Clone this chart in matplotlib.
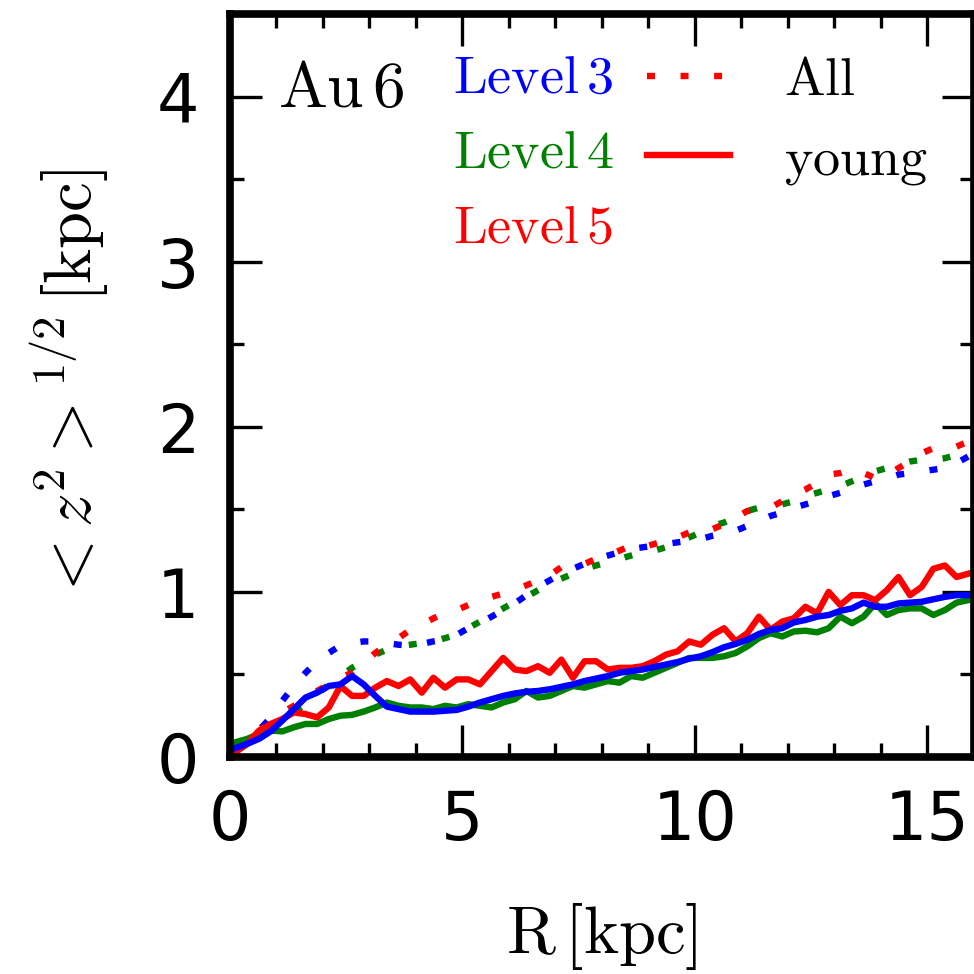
import numpy as np
import matplotlib
matplotlib.use("Agg")
import matplotlib.pyplot as plt
from matplotlib.lines import Line2D

plt.rcParams['mathtext.fontset'] = 'cm'

# =========================
# DATA  (R bins of 0.25 kpc)
# =========================
R = [0.125, 0.375, 0.625, 0.875, 1.125, 1.375, 1.625, 1.875,
     2.125, 2.375, 2.625, 2.875, 3.125, 3.375, 3.625, 3.875,
     4.125, 4.375, 4.625, 4.875, 5.125, 5.375, 5.625, 5.875,
     6.125, 6.375, 6.625, 6.875, 7.125, 7.375, 7.625, 7.875,
     8.125, 8.375, 8.625, 8.875, 9.125, 9.375, 9.625, 9.875,
     10.125, 10.375, 10.625, 10.875, 11.125, 11.375, 11.625, 11.875,
     12.125, 12.375, 12.625, 12.875, 13.125, 13.375, 13.625, 13.875,
     14.125, 14.375, 14.625, 14.875, 15.125, 15.375, 15.625, 15.875]

# all stars
all_l3 = [0.06, 0.10, 0.16, 0.24, 0.34, 0.43, 0.51, 0.58,
          0.63, 0.675, 0.69, 0.70, 0.70, 0.69, 0.68, 0.675,
          0.685, 0.70, 0.71, 0.74, 0.78, 0.81, 0.85, 0.89,
          0.93, 0.98, 1.03, 1.07, 1.11, 1.14, 1.17, 1.20,
          1.22, 1.24, 1.26, 1.27, 1.28, 1.29, 1.30, 1.31,
          1.32, 1.34, 1.355, 1.37, 1.40, 1.43, 1.46, 1.48,
          1.51, 1.53, 1.55, 1.58, 1.60, 1.62, 1.65, 1.67,
          1.69, 1.71, 1.72, 1.73, 1.74, 1.75, 1.78, 1.82]
all_l4 = [0.08, 0.11, 0.15, 0.19, 0.23, 0.27, 0.32, 0.38,
          0.44, 0.49, 0.54, 0.58, 0.62, 0.65, 0.67, 0.68,
          0.69, 0.70, 0.72, 0.74, 0.78, 0.82, 0.86, 0.90,
          0.94, 0.97, 1.01, 1.05, 1.08, 1.11, 1.14, 1.16,
          1.18, 1.20, 1.22, 1.24, 1.25, 1.27, 1.30, 1.33,
          1.36, 1.40, 1.42, 1.45, 1.49, 1.51, 1.52, 1.53,
          1.55, 1.58, 1.60, 1.62, 1.64, 1.67, 1.70, 1.73,
          1.75, 1.77, 1.79, 1.80, 1.80, 1.81, 1.83, 1.85]
all_l5 = [0.04, 0.10, 0.17, 0.22, 0.27, 0.31, 0.35, 0.40,
          0.44, 0.48, 0.51, 0.57, 0.63, 0.68, 0.72, 0.77,
          0.80, 0.84, 0.87, 0.89, 0.92, 0.94, 0.97, 0.99,
          1.01, 1.04, 1.07, 1.10, 1.15, 1.16, 1.17, 1.20,
          1.22, 1.25, 1.28, 1.27, 1.29, 1.31, 1.33, 1.36,
          1.35, 1.38, 1.41, 1.45, 1.49, 1.50, 1.51, 1.55,
          1.59, 1.62, 1.66, 1.71, 1.72, 1.745, 1.72, 1.69,
          1.70, 1.75, 1.79, 1.84, 1.87, 1.86, 1.88, 1.91]

# young stars
young_l3 = [0.055, 0.08, 0.11, 0.155, 0.22, 0.29, 0.36, 0.39,
            0.43, 0.44, 0.49, 0.44, 0.37, 0.305, 0.29, 0.275,
            0.275, 0.275, 0.28, 0.285, 0.305, 0.33, 0.35, 0.37,
            0.385, 0.395, 0.40, 0.41, 0.425, 0.44, 0.46, 0.475,
            0.49, 0.51, 0.52, 0.53, 0.545, 0.56, 0.575, 0.595,
            0.61, 0.635, 0.665, 0.685, 0.71, 0.745, 0.77, 0.78,
            0.815, 0.83, 0.85, 0.86, 0.885, 0.90, 0.935, 0.91,
            0.91, 0.93, 0.935, 0.94, 0.955, 0.97, 0.98, 0.98]
young_l4 = [0.09, 0.11, 0.14, 0.16, 0.155, 0.18, 0.20, 0.20,
            0.23, 0.25, 0.255, 0.275, 0.30, 0.33, 0.31, 0.30,
            0.30, 0.29, 0.31, 0.30, 0.32, 0.31, 0.30, 0.33,
            0.35, 0.40, 0.36, 0.37, 0.40, 0.43, 0.42, 0.44,
            0.46, 0.45, 0.49, 0.48, 0.51, 0.54, 0.57, 0.60,
            0.60, 0.60, 0.61, 0.63, 0.67, 0.72, 0.75, 0.73,
            0.76, 0.765, 0.755, 0.78, 0.85, 0.81, 0.85, 0.93,
            0.86, 0.89, 0.90, 0.90, 0.86, 0.89, 0.935, 0.95]
young_l5 = [0.03, 0.08, 0.16, 0.20, 0.23, 0.27, 0.26, 0.24,
            0.30, 0.43, 0.37, 0.37, 0.42, 0.46, 0.43, 0.47,
            0.39, 0.48, 0.42, 0.47, 0.47, 0.44, 0.52, 0.60,
            0.53, 0.52, 0.55, 0.51, 0.59, 0.48, 0.58, 0.58,
            0.53, 0.54, 0.54, 0.55, 0.58, 0.62, 0.64, 0.70,
            0.68, 0.74, 0.78, 0.70, 0.75, 0.85, 0.77, 0.82,
            0.84, 0.91, 0.87, 1.00, 0.92, 0.98, 0.98, 0.95,
            1.01, 1.09, 0.98, 1.03, 1.14, 1.16, 1.09, 1.11]

levels = [r'$\rm{Level\,3}$', r'$\rm{Level\,4}$', r'$\rm{Level\,5}$']
colors = ['blue', 'green', 'red']

# =========================
# PLOT
# =========================
LW = 4.6
DOT = (0, (1.25, 4.0))

fig = plt.figure(figsize=(9.74, 9.74), dpi=100)
ax = fig.add_axes([0.2361, 0.2228, 0.7639, 0.7628])

ax.plot(R, all_l4, color='green', lw=LW, linestyle=DOT)
ax.plot(R, all_l5, color='red', lw=LW, linestyle=DOT)
ax.plot(R, all_l3, color='blue', lw=LW, linestyle=DOT)

ax.plot(R, young_l4, color='green', lw=LW)
ax.plot(R, young_l5, color='red', lw=LW)
l3, = ax.plot(R, young_l3, color='blue', lw=LW)

ax.set_xlim(0, 16)
ax.set_ylim(0, 4.5)
ax.set_xticks([0, 5, 10, 15])
ax.set_xticks(np.arange(0, 16, 1), minor=True)
ax.set_yticks([0, 1, 2, 3, 4])
ax.set_yticks(np.arange(0, 4.5, 0.5), minor=True)

for s in ax.spines.values():
    s.set_linewidth(5.5)
ax.tick_params(which='both', direction='in', top=True, right=True,
               width=2.4, labelsize=48, pad=22)
ax.tick_params(which='major', length=23)
ax.tick_params(which='minor', length=10)

ax.set_xlabel(r'$\rm{R\,[kpc]}$', fontsize=48, labelpad=34)
ax.set_ylabel(r'$<z^2>^{1/2}\,[\rm{kpc}]$', fontsize=48, labelpad=33)

ax.text(0.065, 0.942, r'$\rm{Au\,6}$', transform=ax.transAxes,
        fontsize=47, ha='left', va='top')

# level legend (coloured text, no handles)
leg1 = ax.legend([l3] * 3, levels, loc='upper left',
                 bbox_to_anchor=(0.30, 0.95), frameon=False,
                 handlelength=0, handletextpad=0, borderpad=0,
                 borderaxespad=0, labelspacing=0.43, fontsize=39)
for h in leg1.legend_handles:
    h.set_visible(False)
for t, c in zip(leg1.get_texts(), colors):
    t.set_color(c)
ax.add_artist(leg1)

# stellar population legend
handles = [Line2D([], [], color='red', lw=LW, linestyle=DOT),
           Line2D([], [], color='red', lw=LW)]
ax.legend(handles, [r'$\rm{All}$', r'$\rm{young}$'], loc='upper left',
          bbox_to_anchor=(0.561, 0.946), frameon=False,
          handlelength=1.52, handletextpad=1.0, borderpad=0,
          borderaxespad=0, labelspacing=0.5, fontsize=39)

fig.savefig("out.png", dpi=100)
